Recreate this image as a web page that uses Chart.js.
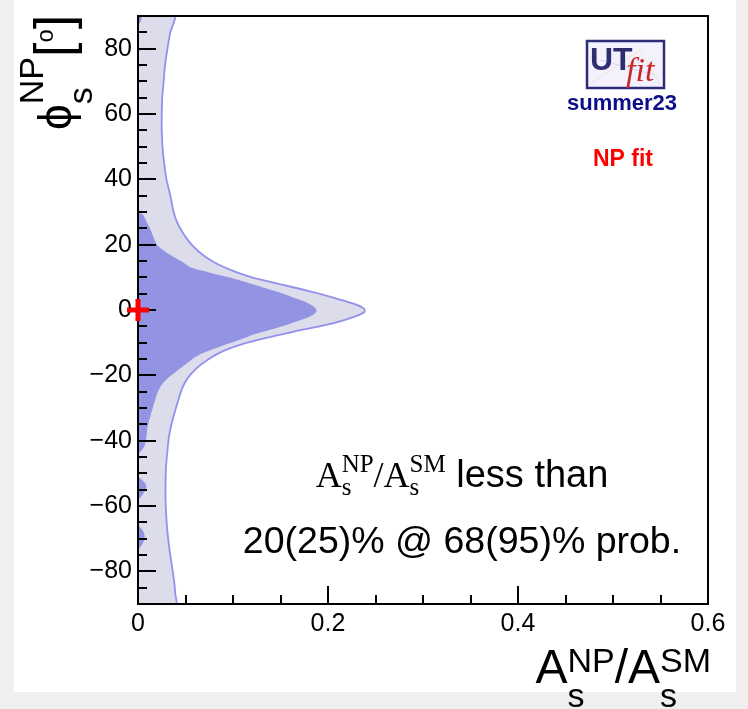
<!DOCTYPE html>
<html>
<head>
<meta charset="utf-8">
<script src="https://cdn.jsdelivr.net/npm/chart.js@4/dist/chart.umd.min.js"></script>
<style>
  html, body { margin: 0; padding: 0; background: #efefef; }
  #wrap { width: 748px; height: 709px; }
  canvas { display: block; }
</style>
</head>
<body>
<div id="wrap"><canvas id="c" width="748" height="709" style="width:748px;height:709px"></canvas></div>
<script>
// ---- data ----
// 95% probability contour: right boundary x(phi)
const outerPhi = [90,85,80,75,70,65,60,55,50,45,40,35,30,27,24,22,20,18,16,14,12,10,8,6,4,2,0.5,-0.5,-1.5,-3,-4.5,-6.5,-8.5,-10.5,-12.5,-15,-18,-21,-24,-28,-33,-38,-43,-48,-53,-58,-63,-68,-73,-78,-83,-87,-90];
const outerX   = [0.038,0.034,0.031,0.0285,0.027,0.0255,0.025,0.025,0.0258,0.0275,0.030,0.034,0.0375,0.041,0.0465,0.051,0.0565,0.0635,0.0725,0.084,0.100,0.120,0.148,0.177,0.203,0.226,0.2375,0.2385,0.233,0.218,0.199,0.166,0.135,0.109,0.090,0.0745,0.061,0.052,0.0465,0.042,0.037,0.033,0.031,0.0295,0.029,0.029,0.0297,0.031,0.033,0.0355,0.038,0.0393,0.0397];
// 68% probability contour: main region
const innerPhi = [29.7,29.2,27,25,22.5,20,18,16,14.5,13,11.5,10,8.5,7,5.5,4,2.5,1,-0.2,-1.5,-3,-4.5,-6,-7.5,-9,-10.5,-12,-13.5,-15.5,-17.5,-20,-22.5,-25,-27.5,-30,-33,-36,-39,-41.5,-43,-44];
const innerX   = [0,0.005,0.009,0.0125,0.016,0.020,0.028,0.039,0.048,0.056,0.075,0.096,0.114,0.131,0.148,0.162,0.176,0.185,0.1879,0.184,0.172,0.157,0.140,0.122,0.108,0.093,0.079,0.066,0.055,0.046,0.035,0.026,0.021,0.018,0.0155,0.0125,0.010,0.0088,0.007,0.004,0];
// 68% small islands
const islandTopPhi = [90,90,88.5,87.2];
const islandTopX   = [0,0.0035,0.003,0];
const islandMidPhi = [-51,-52.5,-54,-56,-58.2];
const islandMidX   = [0,0.006,0.0088,0.006,0];
const islandLowPhi = [-65.8,-67.5,-69.3,-71.5,-73.4];
const islandLowX   = [0,0.005,0.007,0.005,0];
// Standard Model point
const smX   = [0];
const smPhi = [0];
// axes
const xTickValues = [0, 0.2, 0.4, 0.6];
const xTickLabels = ['0', '0.2', '0.4', '0.6'];
const yTickValues = [-80, -60, -40, -20, 0, 20, 40, 60, 80];
const yTickLabels = ['\u221280', '\u221260', '\u221240', '\u221220', '0', '20', '40', '60', '80'];
const annotLine2 = '20(25)% @ 68(95)% prob.';

// ---- helpers ----
function polygonFromBoundary(xs, phis, closeToAxis) {
  const pts = [];
  if (closeToAxis) pts.push({x: 0, y: phis[0]});
  for (let i = 0; i < xs.length; i++) pts.push({x: xs[i], y: phis[i]});
  if (closeToAxis) pts.push({x: 0, y: phis[phis.length - 1]});
  return pts;
}

const COL95 = '#dcdcea';
const COL95LINE = '#9191ee';
const COL68 = '#9393e3';

function contour(label, pts, fill, line, order) {
  return {
    type: 'scatter', label, data: pts, showLine: true, fill: 'shape',
    backgroundColor: fill, borderColor: line || fill, borderWidth: line ? 1.8 : 0,
    pointRadius: 0, pointHoverRadius: 0, tension: 0.3, order
  };
}

function richWidth(ctx, groups) {
  let w = 0;
  for (const g of groups) {
    let m = 0;
    for (const p of g) { ctx.font = p.f; m = Math.max(m, ctx.measureText(p.t).width); }
    w += m;
  }
  return w;
}
function drawRich(ctx, groups, x, y, color) {
  ctx.fillStyle = color;
  ctx.textBaseline = 'alphabetic';
  ctx.textAlign = 'left';
  for (const g of groups) {
    let m = 0;
    for (const p of g) {
      ctx.font = p.f;
      ctx.fillText(p.t, x, y + (p.dy || 0));
      m = Math.max(m, ctx.measureText(p.t).width);
    }
    x += m;
  }
  return x;
}

const SANS = '"Liberation Sans", Arial, Helvetica, sans-serif';
const SERIF = '"Liberation Serif", "Times New Roman", serif';

function drawFrameAndTicks(chart) {
  const ctx = chart.ctx;
  const {left, right, top, bottom} = chart.chartArea;
  const xs = chart.scales.x, ys = chart.scales.y;
  ctx.save();
  ctx.strokeStyle = '#000';
  ctx.lineWidth = 2;
  ctx.beginPath();
  for (let v = -85; v <= 85; v += 5) {
    const py = Math.round(ys.getPixelForValue(v));
    const major = yTickValues.includes(v);
    ctx.moveTo(left, py); ctx.lineTo(left + (major ? 18 : 9), py);
  }
  for (let k = 1; k <= 11; k++) {
    const v = k * 0.05;
    const px = Math.round(xs.getPixelForValue(v));
    const major = (k % 4 === 0);
    ctx.moveTo(px, bottom); ctx.lineTo(px, bottom - (major ? 18 : 9));
  }
  ctx.stroke();
  ctx.strokeRect(left, top, right - left, bottom - top);
  ctx.restore();
}

const rootStyle = {
  id: 'rootStyle',
  beforeDraw(chart) {
    const ctx = chart.ctx;
    ctx.save();
    ctx.fillStyle = '#efefef';
    ctx.fillRect(0, 0, chart.width, chart.height);
    ctx.fillStyle = '#ffffff';
    ctx.fillRect(14, 0, 722, 692);
    ctx.restore();
  },
  beforeDatasetDraw(chart, args) {
    if (chart.data.datasets[args.index].label === 'SM') drawFrameAndTicks(chart);
  },
  afterDraw(chart) {
    const ctx = chart.ctx;
    ctx.save();
    // x title
    const mainF = '48px ' + SANS, smallF = '34px ' + SANS;
    const xt = [
      [{t: 'A', f: mainF}],
      [{t: 's', f: smallF, dy: 24}, {t: 'NP', f: smallF, dy: -11}],
      [{t: '/', f: mainF}],
      [{t: 'A', f: mainF}],
      [{t: 's', f: smallF, dy: 24}, {t: 'SM', f: smallF, dy: -11}]
    ];
    const xw = richWidth(ctx, xt);
    drawRich(ctx, xt, 711 - xw, 683, '#000');
    // y title (rotated)
    ctx.save();
    ctx.translate(71, 130);
    ctx.rotate(-Math.PI / 2);
    const yt = [
      [{t: '\u03d5', f: '46px ' + SANS}],
      [{t: 's', f: smallF, dy: 21}, {t: 'NP', f: smallF, dy: -28}],
      [{t: '[', f: '52px ' + SANS}],
      [{t: 'o', f: '24px ' + SANS, dy: -18}],
      [{t: ']', f: '52px ' + SANS}]
    ];
    drawRich(ctx, yt, 0, 0, '#000');
    ctx.restore();
    // annotation
    const sM = '36px ' + SERIF, sS = '25px ' + SERIF;
    const l1 = [
      [{t: 'A', f: sM}],
      [{t: 's', f: sS, dy: 8}, {t: 'NP', f: sS, dy: -15}],
      [{t: '/', f: sM}],
      [{t: 'A', f: sM}],
      [{t: 's', f: sS, dy: 8}, {t: 'SM', f: sS, dy: -15}],
      [{t: ' less than', f: '38px ' + SANS}]
    ];
    const w1 = richWidth(ctx, l1);
    drawRich(ctx, l1, 462 - w1 / 2, 487, '#000');
    ctx.font = '37.5px ' + SANS; ctx.textAlign = 'center'; ctx.fillStyle = '#000';
    ctx.fillText(annotLine2, 462, 553);
    // logo
    ctx.fillStyle = '#f3f1fb';
    ctx.fillRect(587, 41, 77, 47);
    ctx.strokeStyle = 'rgba(240,200,120,0.35)'; ctx.lineWidth = 1;
    ctx.beginPath(); ctx.moveTo(590, 84); ctx.lineTo(640, 50); ctx.lineTo(660, 84); ctx.stroke();
    ctx.strokeStyle = 'rgba(150,170,230,0.35)';
    ctx.beginPath(); ctx.moveTo(600, 60); ctx.lineTo(655, 75); ctx.stroke();
    ctx.strokeStyle = '#2c2c78'; ctx.lineWidth = 2.5;
    ctx.strokeRect(587, 41, 77, 47);
    ctx.textAlign = 'left';
    ctx.font = 'bold 32px ' + SANS; ctx.fillStyle = '#2d2d70';
    ctx.fillText('UT', 590, 70);
    ctx.font = 'italic 34px ' + SERIF; ctx.fillStyle = '#c8282d';
    ctx.fillText('fit', 626, 81);
    ctx.textAlign = 'center';
    ctx.font = 'bold 22px ' + SANS; ctx.fillStyle = '#0d0d8c';
    ctx.fillText('summer23', 622, 110);
    ctx.font = 'bold 23px ' + SANS; ctx.fillStyle = '#ff0000';
    ctx.fillText('NP fit', 623, 166);
    ctx.restore();
  }
};

const datasets = [
  {
    type: 'scatter', label: 'SM', data: smX.map((x, i) => ({x, y: smPhi[i]})),
    pointStyle: 'cross', pointRadius: 11, pointBorderWidth: 5,
    borderColor: '#ff0000', backgroundColor: '#ff0000', showLine: false, clip: false, order: 0
  },
  contour('68% main', polygonFromBoundary(innerX, innerPhi, false), COL68, null, 1),
  contour('68% top', polygonFromBoundary(islandTopX, islandTopPhi, false), COL68, null, 1),
  contour('68% mid', polygonFromBoundary(islandMidX, islandMidPhi, false), COL68, null, 1),
  contour('68% low', polygonFromBoundary(islandLowX, islandLowPhi, false), COL68, null, 1),
  contour('95%', polygonFromBoundary(outerX, outerPhi, true), COL95, COL95LINE, 2)
];

new Chart(document.getElementById('c'), {
  type: 'scatter',
  data: { datasets },
  options: {
    responsive: false, animation: false, events: [],
    layout: { padding: { top: 14, right: 40, left: 0, bottom: 0 } },
    plugins: { legend: { display: false }, tooltip: { enabled: false } },
    scales: {
      x: {
        type: 'linear', min: 0, max: 0.6,
        afterBuildTicks: s => { s.ticks = xTickValues.map(v => ({value: v})); },
        afterFit: s => { s.height = 105; s.paddingLeft = 0; s.paddingRight = 0; },
        ticks: {
          autoSkip: false, maxRotation: 0, padding: 5, color: '#000',
          font: { family: SANS, size: 25 },
          callback: (v, i) => xTickLabels[i]
        },
        grid: { display: false, drawTicks: false }, border: { display: false }
      },
      y: {
        type: 'linear', min: -90, max: 90,
        afterBuildTicks: s => { s.ticks = yTickValues.map(v => ({value: v})); },
        afterFit: s => { s.width = 138; s.paddingTop = 0; s.paddingBottom = 0; },
        ticks: {
          autoSkip: false, padding: 6, color: '#000',
          font: { family: SANS, size: 25 },
          callback: (v, i) => yTickLabels[i]
        },
        grid: { display: false, drawTicks: false }, border: { display: false }
      }
    }
  },
  plugins: [rootStyle]
});
</script>
</body>
</html>
